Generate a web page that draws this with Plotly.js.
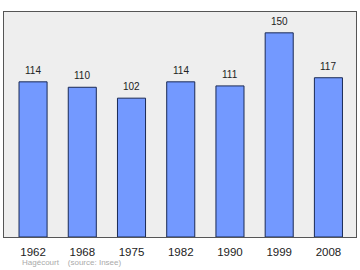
<!DOCTYPE html>
<html><head><meta charset="utf-8">
<script src="https://cdn.plot.ly/plotly-3.0.1.min.js"></script>
<style>body{margin:0;padding:0;background:#fff}#chart{width:360px;height:270px}</style>
</head><body><div id="chart"></div>
<script>
const years = ["1962","1968","1975","1982","1990","1999","2008"];
const population = [114,110,102,114,111,150,117];
const caption = "Hagécourt&nbsp;&nbsp;&nbsp;&nbsp;(source: Insee)";

const trace = {
  type: "bar",
  x: years,
  y: population,
  width: 0.57,
  marker: {color: "#7399ff", line: {color: "#1a2a55", width: 1}},
  hoverinfo: "none"
};

const labels = years.map((yr, i) => ({
  x: i, y: population[i], xref: "x", yref: "y", text: String(population[i]),
  showarrow: false, yanchor: "bottom", yshift: 4,
  font: {family: "Liberation Sans, Arial, sans-serif", size: 10, color: "#222"}
}));

labels.push({
  xref: "paper", yref: "paper", x: 0.045, y: -0.085, xanchor: "left", yanchor: "top",
  text: caption, showarrow: false,
  font: {family: "Liberation Sans, Arial, sans-serif", size: 8, color: "#aaaaaa"}
});

const layout = {
  width: 360, height: 270,
  margin: {l: 4, r: 4, t: 12, b: 33, pad: 0},
  paper_bgcolor: "#ffffff",
  plot_bgcolor: "#eeeeee",
  showlegend: false,
  xaxis: {
    type: "category", range: [-0.59, 6.56],
    showline: true, mirror: true, linecolor: "#555", linewidth: 1,
    ticks: "outside", ticklen: 4, tickcolor: "rgba(0,0,0,0)",
    tickfont: {family: "Liberation Sans, Arial, sans-serif", size: 11.5, color: "#222"},
    showgrid: false, zeroline: false
  },
  yaxis: {
    range: [0, 165.3],
    showline: true, mirror: true, linecolor: "#555", linewidth: 1,
    showticklabels: false, ticks: "", showgrid: false, zeroline: false
  },
  annotations: labels
};

Plotly.newPlot("chart", [trace], layout, {staticPlot: true, displayModeBar: false});
</script></body></html>
